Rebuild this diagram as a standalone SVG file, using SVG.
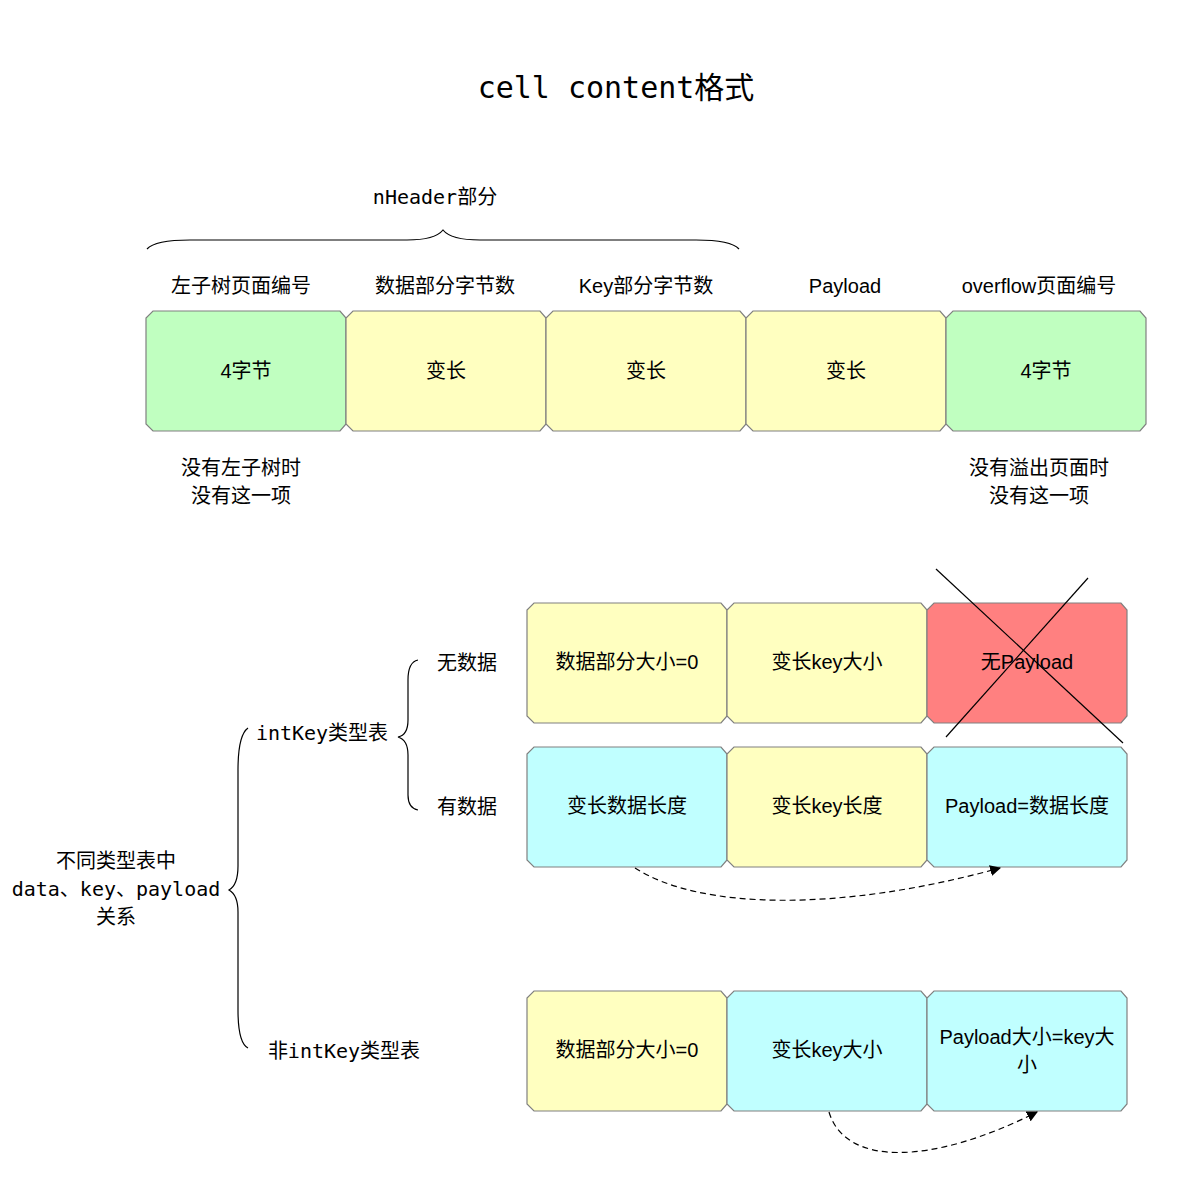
<svg xmlns="http://www.w3.org/2000/svg" width="1200" height="1200" viewBox="0 0 1200 1200">
<defs>
<style>
.bx{stroke:#808080;stroke-width:1.2}
.g{fill:#C0FFC0}.y{fill:#FFFFC0}.c{fill:#C0FFFF}.r{fill:#FF8080}
.s{font-family:"Liberation Sans","Noto Sans CJK SC",sans-serif;font-size:20px;fill:#000;text-anchor:middle}
.m{font-family:"DejaVu Sans Mono","Noto Sans CJK SC",monospace;font-size:20px;fill:#000;text-anchor:middle}
.t{font-family:"DejaVu Sans Mono","Noto Sans CJK SC",monospace;font-size:30px;fill:#000;text-anchor:middle}
.br{fill:none;stroke:#000;stroke-width:1.2}
.dash{fill:none;stroke:#000;stroke-width:1.2;stroke-dasharray:6 4}
</style>
<marker id="ah" viewBox="0 0 10 10" refX="9" refY="5" markerWidth="11" markerHeight="11" markerUnits="userSpaceOnUse" orient="auto">
<path d="M0,0 L10,5 L0,10 Z" fill="#000"/>
</marker>
</defs>
<rect width="1200" height="1200" fill="#fff"/>
<text class="t" x="616" y="98">cell content格式</text>
<text class="m" x="435" y="204">nHeader部分</text>
<path class="br" d="M147,249 Q155,240 190,240 H407 Q435,240 443,230 Q451,240 480,240 H696 Q731,240 739,249"/>
<g id="labels-top">
<text class="s" x="241" y="293">左子树页面编号</text>
<text class="s" x="445" y="293">数据部分字节数</text>
<text class="s" x="646" y="293">Key部分字节数</text>
<text class="s" x="845" y="293">Payload</text>
<text class="s" x="1039" y="293">overflow页面编号</text>
</g>
<g id="n1"><path class="bx g" d="M153,311 H340 L346,318 V424 L340,431 H153 L146,424 V318 Z"/><text class="s" x="246" y="378">4字节</text></g>
<g id="n2"><path class="bx y" d="M353,311 H540 L546,318 V424 L540,431 H353 L346,424 V318 Z"/><text class="s" x="446" y="378">变长</text></g>
<g id="n3"><path class="bx y" d="M553,311 H740 L746,318 V424 L740,431 H553 L546,424 V318 Z"/><text class="s" x="646" y="378">变长</text></g>
<g id="n4"><path class="bx y" d="M753,311 H940 L946,318 V424 L940,431 H753 L746,424 V318 Z"/><text class="s" x="846" y="378">变长</text></g>
<g id="n5"><path class="bx g" d="M953,311 H1140 L1146,318 V424 L1140,431 H953 L946,424 V318 Z"/><text class="s" x="1046" y="378">4字节</text></g>
<g id="notes">
<text class="s" x="241" y="475">没有左子树时</text>
<text class="s" x="241" y="503">没有这一项</text>
<text class="s" x="1039" y="475">没有溢出页面时</text>
<text class="s" x="1039" y="503">没有这一项</text>
</g>
<g id="tree">
<text class="m" x="116" y="868">不同类型表中</text>
<text class="m" x="116" y="896">data、key、payload</text>
<text class="m" x="116" y="924">关系</text>
<path class="br" d="M248,728 Q238,735 238,770 V866 Q238,885 229,890 Q238,895 238,912 V1010 Q238,1043 248,1048"/>
<text class="m" x="322" y="740">intKey类型表</text>
<text class="m" x="344" y="1058">非intKey类型表</text>
<path class="br" d="M418,660 Q408,662 408,680 V720 Q408,735 398,737 Q408,740 408,755 V795 Q408,808 418,810"/>
<text class="s" x="467" y="670">无数据</text>
<text class="s" x="467" y="814">有数据</text>
</g>
<g id="r1a"><path class="bx y" d="M534,603 H721 L727,610 V716 L721,723 H534 L527,716 V610 Z"/><text class="s" x="627" y="669">数据部分大小=0</text></g>
<g id="r1b"><path class="bx y" d="M734,603 H921 L927,610 V716 L921,723 H734 L727,716 V610 Z"/><text class="s" x="827" y="669">变长key大小</text></g>
<g id="r1c"><path class="bx r" d="M934,603 H1121 L1127,610 V716 L1121,723 H934 L927,716 V610 Z"/><text class="s" x="1027" y="669">无Payload</text></g>
<g id="r2a"><path class="bx c" d="M534,747 H721 L727,754 V860 L721,867 H534 L527,860 V754 Z"/><text class="s" x="627" y="813">变长数据长度</text></g>
<g id="r2b"><path class="bx y" d="M734,747 H921 L927,754 V860 L921,867 H734 L727,860 V754 Z"/><text class="s" x="827" y="813">变长key长度</text></g>
<g id="r2c"><path class="bx c" d="M934,747 H1121 L1127,754 V860 L1121,867 H934 L927,860 V754 Z"/><text class="s" x="1027" y="813">Payload=数据长度</text></g>
<g id="r3a"><path class="bx y" d="M534,991 H721 L727,998 V1104 L721,1111 H534 L527,1104 V998 Z"/><text class="s" x="627" y="1057">数据部分大小=0</text></g>
<g id="r3b"><path class="bx c" d="M734,991 H921 L927,998 V1104 L921,1111 H734 L727,1104 V998 Z"/><text class="s" x="827" y="1057">变长key大小</text></g>
<g id="r3c"><path class="bx c" d="M934,991 H1121 L1127,998 V1104 L1121,1111 H934 L927,1104 V998 Z"/><text class="s" x="1027" y="1044">Payload大小=key大</text><text class="s" x="1027" y="1072">小</text></g>
<g id="connectors">
<line x1="936" y1="569" x2="1123" y2="743" stroke="#000" stroke-width="1.2"/>
<line x1="1088" y1="578" x2="946" y2="737" stroke="#000" stroke-width="1.2"/>
<path class="dash" d="M635,868 C700,910 840,912 1000,868" marker-end="url(#ah)"/>
<path class="dash" d="M829,1112 C845,1166 930,1166 1037,1112" marker-end="url(#ah)"/>
</g>
</svg>
